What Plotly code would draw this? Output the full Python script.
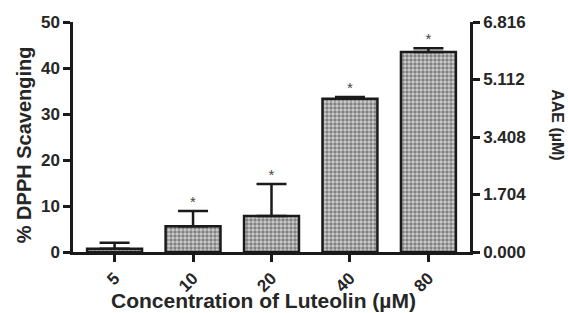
import plotly.graph_objects as go

categories = ["5", "10", "20", "40", "80"]
dpph_pct = [0.7, 5.6, 7.8, 33.3, 43.5]
dpph_err = [1.3, 3.3, 7.0, 0.4, 0.8]
significant = [False, True, True, True, True]
left_ticks = [0, 10, 20, 30, 40, 50]
right_ticks = [0.000, 1.704, 3.408, 5.112, 6.816]
right_tick_labels = ["0.000", "1.704", "3.408", "5.112", "6.816"]

FONT = "Liberation Sans, Arial, sans-serif"
TXT = "#262626"
LINE = "#1a1a1a"

fig = go.Figure()
fig.add_trace(go.Bar(
    x=categories, y=dpph_pct, width=0.7,
    marker=dict(
        color="#c8c8c8",
        line=dict(color=LINE, width=2.5),
        pattern=dict(shape=".", fgcolor="#333333", bgcolor="#d0d0d0", size=4, solidity=0.6),
    ),
    error_y=dict(type="data", array=dpph_err, arrayminus=[0]*5, symmetric=False,
                 color=LINE, thickness=2.5, width=15),
    showlegend=False, hoverinfo="skip",
))
# invisible trace to activate the secondary axis
fig.add_trace(go.Scatter(x=[categories[0]], y=[right_ticks[0]], yaxis="y2",
                         mode="markers", marker=dict(opacity=0), showlegend=False,
                         hoverinfo="skip"))

star_x = [c for c, s in zip(categories, significant) if s]
star_y = [v + e for v, e, s in zip(dpph_pct, dpph_err, significant) if s]
fig.add_trace(go.Scatter(x=star_x, y=star_y, mode="text", text=["*"] * len(star_x),
                         textposition="top center",
                         textfont=dict(family=FONT, size=15, color="#444444"),
                         showlegend=False, hoverinfo="skip", cliponaxis=False))

fig.add_annotation(xref="paper", yref="paper", x=1.222, xanchor="center",
                   y=0.555, yanchor="middle", text="AAE (µM)",
                   textangle=90, showarrow=False,
                   font=dict(family=FONT, size=16, color=TXT, weight="bold"))
fig.add_annotation(xref="paper", yref="paper", x=-0.123, xanchor="center",
                   y=0.465, yanchor="middle", text="% DPPH Scavenging",
                   textangle=-90, showarrow=False,
                   font=dict(family=FONT, size=20, color=TXT, weight="bold"))
fig.add_annotation(xref="paper", yref="paper", x=0.481, xanchor="center",
                   y=-0.213, yanchor="middle",
                   text="Concentration of Luteolin (µM)", showarrow=False,
                   font=dict(family=FONT, size=21, color=TXT, weight="bold"))

axis_common = dict(showline=True, linecolor=LINE, linewidth=2.5, ticks="outside",
                   ticklen=7, tickwidth=2.5, tickcolor=LINE, showgrid=False,
                   zeroline=False, automargin=False,
                   tickfont=dict(family=FONT, size=17, color=TXT, weight="bold"))

fig.update_layout(
    width=568, height=313,
    margin=dict(l=73, r=98, t=22, b=61),
    paper_bgcolor="white", plot_bgcolor="white",
    xaxis=dict(**axis_common, tickangle=-45, range=[-0.53, 4.53]),
    yaxis=dict(**axis_common, range=[0, 50], tickvals=left_ticks, ticklabelstandoff=0),
    yaxis2=dict(**axis_common, overlaying="y", side="right", range=[0, 6.816],
                tickvals=right_ticks, ticktext=right_tick_labels),
)

fig.write_html("out.html", config={"displayModeBar": False},
               post_script="document.body.style.margin='0';")
